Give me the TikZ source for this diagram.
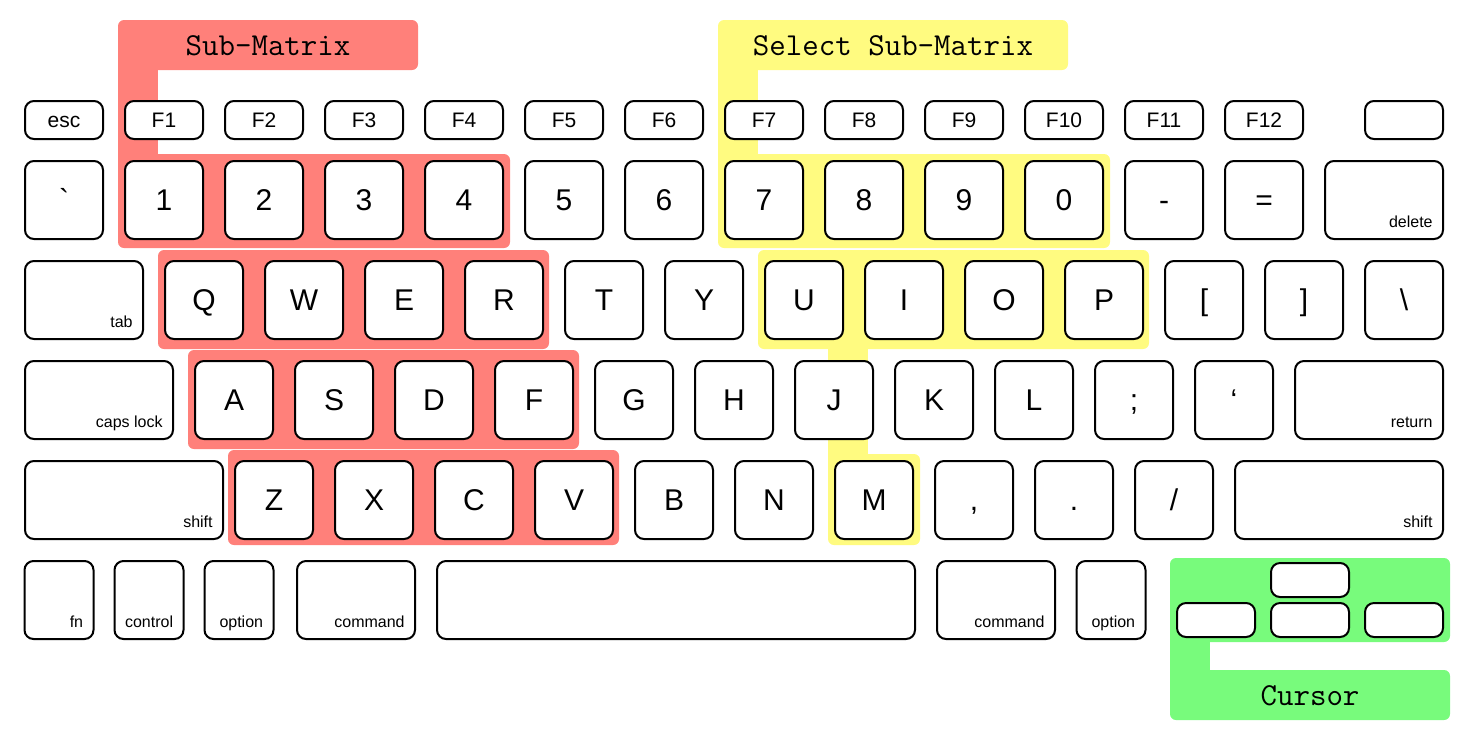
\documentclass[tikz,border=0pt]{standalone}
\usepackage{fontspec}
\setmainfont{Liberation Sans}
\usepackage{tikz}
\definecolor{submatrixred}{RGB}{255, 128, 122}
\definecolor{selectyellow}{RGB}{255, 251, 128}
\definecolor{cursorgreen}{RGB}{120, 251, 124}
\tikzset{
  key/.style={draw, line width=1pt, rounded corners=4.5pt, fill=white, minimum width=39pt, minimum height=39pt, inner sep=0pt, text height=10.7pt, text depth=0pt, font=\fontsize{15}{18}\selectfont},
  fkey/.style={key, minimum height=19pt, text height=7.5pt, font=\fontsize{10.5}{12.6}\selectfont},
  modtext/.style={anchor=base east, inner sep=0pt, xshift=-5.5pt, yshift=6.5pt, font=\fontsize{8}{9.6}\selectfont},
  modkey/.style={key, label={[modtext]south east:#1}},
  tag/.style={rounded corners=3pt, minimum height=25pt, inner sep=0pt, text height=10pt, text depth=0pt, font=\ttfamily\fontsize{16}{19}\selectfont}
}
\begin{document}
\begin{tikzpicture}[x=0.5pt, y=-0.5pt]
        \useasboundingbox (0,0) rectangle (1470,740);

        % Sub-Matrix area
        \node[tag, fill=submatrixred, minimum width=150pt] (subtag) at (268,45) {Sub-Matrix};
        \fill[submatrixred] (118,60) rectangle (158,164);
        \fill[submatrixred, rounded corners=3pt] (118,154) rectangle (510,248);
        \fill[submatrixred, rounded corners=3pt] (158,250) rectangle (549,349);
        \fill[submatrixred, rounded corners=3pt] (188,350) rectangle (579,449);
        \fill[submatrixred, rounded corners=3pt] (228,450) rectangle (619,545);

        % Select Sub-Matrix area
        \node[tag, fill=selectyellow, minimum width=175pt] (selecttag) at (893,45) {Select Sub-Matrix};
        \fill[selectyellow] (718,60) rectangle (758,164);
        \fill[selectyellow, rounded corners=3pt] (718,154) rectangle (1110,248);
        \fill[selectyellow, rounded corners=3pt] (758,250) rectangle (1149,349);
        \fill[selectyellow] (828,340) rectangle (868,460);
        \fill[selectyellow, rounded corners=3pt] (828,454) rectangle (920,545);

        % Cursor area
        \fill[cursorgreen, rounded corners=3pt] (1170,558) rectangle (1450,642);
        \fill[cursorgreen] (1170,630) rectangle (1210,680);
        \node[tag, fill=cursorgreen, minimum width=140pt] (cursortag) at (1310,695) {Cursor};

        % Function row
        \node[fkey] (esc) at (64,120) {esc};
        \foreach \i in {1,...,12}
            \node[fkey] (f\i) at ({64+100*\i},120) {F\i};
        \node[fkey] (power) at (1404,120) {};

        % Number row
        \node[key] (grave) at (64,200) {\textasciigrave};
        \foreach \t [count=\i] in {1,2,3,4,5,6,7,8,9,0}
            \node[key] (num\i) at ({64+100*\i},200) {\t};
        \node[key] (minus) at (1164,200) {-};
        \node[key] (equal) at (1264,200) {=};
        \node[modkey=delete, minimum width=59pt] (delete) at (1384,200) {};

        % Top letter row
        \node[modkey=tab, minimum width=59pt] (tab) at (84,300) {};
        \foreach \t [count=\i] in {Q,W,E,R,T,Y,U,I,O,P}
            \node[key] (top\i) at ({104+100*\i},300) {\t};
        \node[key] (lbrack) at (1204,300) {[};
        \node[key] (rbrack) at (1304,300) {]};
        \node[key] (bslash) at (1404,300) {\textbackslash};

        % Home row
        \node[modkey=caps lock, minimum width=74pt] (caps) at (99,400) {};
        \foreach \t [count=\i] in {A,S,D,F,G,H,J,K,L}
            \node[key] (home\i) at ({134+100*\i},400) {\t};
        \node[key] (semi) at (1134,400) {;};
        \node[key] (quote) at (1234,400) {‘};
        \node[modkey=return, minimum width=74pt] (return) at (1369,400) {};

        % Bottom letter row
        \node[modkey=shift, minimum width=99pt] (lshift) at (124,500) {};
        \foreach \t [count=\i] in {Z,X,C,V,B,N,M}
            \node[key] (bot\i) at ({174+100*\i},500) {\t};
        \node[key] (comma) at (974,500) {,};
        \node[key] (period) at (1074,500) {.};
        \node[key] (slash) at (1174,500) {/};
        \node[modkey=shift, minimum width=104pt] (rshift) at (1339,500) {};

        % Space row
        \node[modkey=fn, minimum width=34.5pt] (fn) at (59,600) {};
        \node[modkey=control, minimum width=34.5pt] (ctrl) at (149,600) {};
        \node[modkey=option, minimum width=34.5pt] (lopt) at (239,600) {};
        \node[modkey=command, minimum width=59pt] (lcmd) at (356,600) {};
        \node[key, minimum width=239pt] (space) at (676,600) {};
        \node[modkey=command, minimum width=59pt] (rcmd) at (996,600) {};
        \node[modkey=option, minimum width=34.5pt] (ropt) at (1111,600) {};

        % Arrow keys
        \node[key, minimum height=17pt] (up) at (1310,580) {};
        \node[key, minimum height=17pt] (left) at (1216,620) {};
        \node[key, minimum height=17pt] (down) at (1310,620) {};
        \node[key, minimum height=17pt] (right) at (1404,620) {};
    \end{tikzpicture}
\end{document}
